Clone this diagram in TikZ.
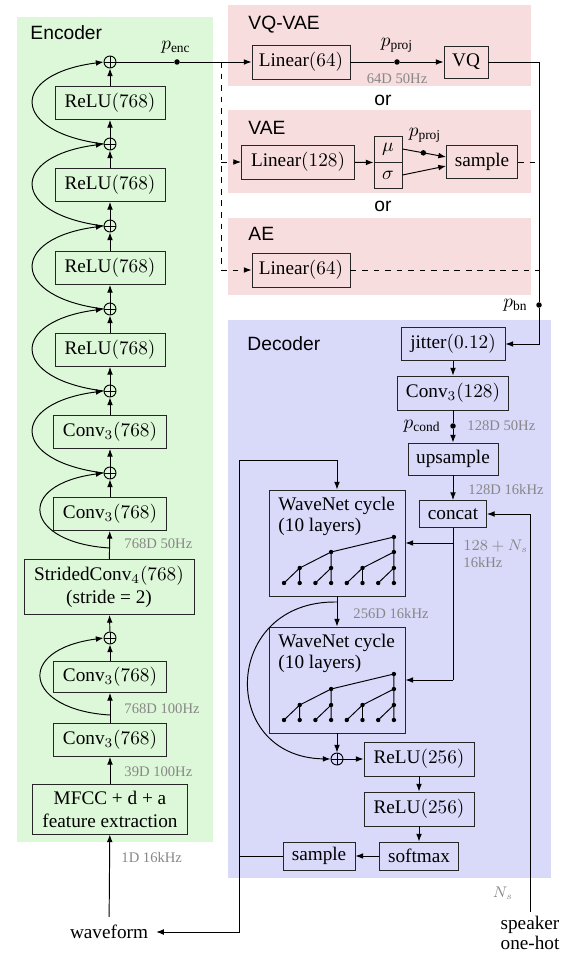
\documentclass[tikz,border=0pt]{standalone}
\usepackage{fontspec}
\setmainfont{Liberation Serif}
\setsansfont{Liberation Sans}
\usetikzlibrary{arrows.meta,calc}
\definecolor{encbg}{RGB}{221,248,216}
\definecolor{aebg}{RGB}{247,221,221}
\definecolor{decbg}{RGB}{217,217,250}
\definecolor{lblgray}{RGB}{135,135,135}
\newcommand\wntree[1]{%
 \begin{scope}[shift={(0,#1)}]
  \foreach \k in {0,2,4,6}{
    \draw ({284+15.7*\k},93) -- ({284+15.7*(\k+1)},78) -- ({284+15.7*(\k+1)},93);
  }
  \foreach \k in {1,5}{
    \draw ({284+15.7*\k},78) -- ({284+15.7*(\k+2)},62) -- ({284+15.7*(\k+2)},78);
  }
  \draw ({284+15.7*3},62) -- ({284+15.7*7},47) -- ({284+15.7*7},62);
  \foreach \k in {0,...,7} \fill ({284+15.7*\k},93) circle[radius=2.2];
  \foreach \k in {1,3,5,7} \fill ({284+15.7*\k},78) circle[radius=2.2];
  \foreach \k in {3,7} \fill ({284+15.7*\k},62) circle[radius=2.2];
  \fill ({284+15.7*7},47) circle[radius=2.2];
 \end{scope}}
\begin{document}
\begin{tikzpicture}[x=0.52pt,y=-0.52pt,
  line width=0.5pt,
  >={Latex[length=4pt,width=3pt]},
  blk/.style 2 args={draw=black!85, inner sep=1pt, minimum width=#1*0.52pt, minimum height=#2*0.52pt, align=center},
  addc/.style={draw, circle, inner sep=0pt, minimum size=12*0.52pt, path picture={\draw (path picture bounding box.north) -- (path picture bounding box.south) (path picture bounding box.west) -- (path picture bounding box.east);}},
  jdot/.style={circle, fill, inner sep=0pt, minimum size=5.5*0.52pt},
  lbl/.style={text=lblgray, font=\fontsize{7.6}{9}\selectfont, inner sep=0pt, anchor=west},
  ttl/.style={font=\sffamily, inner sep=0pt, anchor=west},
  ]
\useasboundingbox (0,0) rectangle (562,953);
% backgrounds
\fill[encbg] (17,17) rectangle (213,842);
\fill[aebg] (228,5) rectangle (531,86);
\fill[aebg] (228,110) rectangle (531,193);
\fill[aebg] (228,218) rectangle (531,295);
\fill[decbg] (228,320) rectangle (551,878);

% ---------------- Encoder
\node[ttl] (enct) at (30,33) {Encoder};
\node[addc] (e1) at (110,62) {};
\node[blk={110}{33}] (r1) at (110,103) {ReLU$(768)$};
\node[addc] (e2) at (110,144) {};
\node[blk={110}{33}] (r2) at (110,185) {ReLU$(768)$};
\node[addc] (e3) at (110,226) {};
\node[blk={110}{33}] (r3) at (110,268) {ReLU$(768)$};
\node[addc] (e4) at (110,309) {};
\node[blk={110}{33}] (r4) at (110,350) {ReLU$(768)$};
\node[addc] (e5) at (110,391) {};
\node[blk={113}{33}] (c1) at (110,432) {Conv$_3(768)$};
\node[addc] (e6) at (110,473) {};
\node[blk={113}{33}] (c2) at (110,514) {Conv$_3(768)$};
\node[blk={170}{55}] (sc) at (109,587) {StridedConv$_4(768)$\\(stride = 2)};
\node[addc] (e7) at (110,638) {};
\node[blk={113}{31}] (c3) at (110,677) {Conv$_3(768)$};
\node[blk={113}{33}] (c4) at (110,740) {Conv$_3(768)$};
\node[blk={155}{50}] (mf) at (110,809) {MFCC + d + a\\feature extraction};
\node[inner sep=4pt] (wf) at (109,932) {waveform};

\draw[->] (r1) -- (e1);
\draw[->] (e2) -- (r1);
\draw[->] (r2) -- (e2);
\draw[->] (e3) -- (r2);
\draw[->] (r3) -- (e3);
\draw[->] (e4) -- (r3);
\draw[->] (r4) -- (e4);
\draw[->] (e5) -- (r4);
\draw[->] (c1) -- (e5);
\draw[->] (e6) -- (c1);
\draw[->] (c2) -- (e6);
\draw[->] (sc) -- (c2);
\draw[->] (e7) -- (sc);
\draw[->] (c3) -- (e7);
\draw[->] (c4) -- (c3);
\draw[->] (mf) -- (c4);
\draw[->] (wf) -- (mf);

% residual arcs
\draw[->] (e2.west) .. controls +(-94,-12) and +(-94,12) .. (e1.west);
\draw[->] (e3.west) .. controls +(-94,-12) and +(-94,12) .. (e2.west);
\draw[->] (e4.west) .. controls +(-94,-12) and +(-94,12) .. (e3.west);
\draw[->] (e5.west) .. controls +(-94,-12) and +(-94,12) .. (e4.west);
\draw[->] (e6.west) .. controls +(-94,-12) and +(-94,12) .. (e5.west);
\coordinate (a6) at (110,548);
\coordinate (a7) at (110,715);
\draw[->] (a6) .. controls +(-85,-5) and +(-90,12) .. (e6.west);
\draw[->] (a7) .. controls +(-85,-5) and +(-90,12) .. (e7.west);

\node[lbl] at (124,544) {768D 50Hz};
\node[lbl] at (124,709) {768D 100Hz};
\node[lbl] at (124,772) {39D 100Hz};
\node[lbl] at (121,857) {1D 16kHz};

% ---------------- bottleneck variants
\node[ttl] at (248,25) {VQ-VAE};
\node[font=\sffamily] at (383,100) {or};
\node[ttl] at (248,128) {VAE};
\node[font=\sffamily] at (383,206) {or};
\node[ttl] at (248,234) {AE};

\node[jdot] (penc) at (177,62) {};
\node[inner sep=0pt] at (176,47) {$p_{\mathrm{enc}}$};
\node[blk={98}{34}] (l64) at (301,62) {Linear$(64)$};
\draw[->] (e1) -- (penc) -- (l64);

\node[jdot] (pproj) at (397,62) {};
\node[inner sep=0pt] at (397,45) {$p_{\mathrm{proj}}$};
\node[lbl,anchor=center] at (397,79) {64D 50Hz};
\node[blk={44}{32}] (vq) at (466,62) {VQ};
\draw[->] (l64) -- (pproj) -- (vq);

\node[blk={113}{34}] (l128) at (298,162) {Linear$(128)$};
\node[blk={28}{26}] (mu) at (388,149) {$\mu$};
\node[blk={28}{26}] (sg) at (388,175) {$\sigma$};
\draw[->] (l128) -- (mu.south west);
\node[blk={71}{33}] (smp) at (482,162) {sample};
\draw[->] (mu.east) -- node[jdot, pos=0.48] (pp2) {} ($(smp.west)+(0,-5)$);
\node[inner sep=0pt] at (425,135) {$p_{\mathrm{proj}}$};
\draw[->] (sg.east) -- ($(smp.west)+(0,4)$);

\node[blk={98}{34}] (l64b) at (301,270) {Linear$(64)$};

\coordinate (dtop) at (221,62);
\coordinate (dvae) at (221,162);
\coordinate (dae) at (221,270);
\draw[dashed] (dtop) -- (dae);
\draw[dashed,->] (dvae) -- (l128);
\draw[dashed,->] (dae) -- (l64b);

\coordinate (rtop) at (539,62);
\coordinate (rvae) at (539,162);
\coordinate (rae) at (539,270);
\coordinate (rbot) at (539,344);
\draw[dashed] (smp) -- (rvae);
\draw[dashed] (l64b) -- (rae);
\node[jdot] (pbn) at (539,305) {};
\node[inner sep=0pt, anchor=east] at (528,305) {$p_{\mathrm{bn}}$};

% ---------------- Decoder
\node[ttl] at (247,344) {Decoder};
\node[blk={104}{33}] (jit) at (453,344) {jitter$(0.12)$};
\draw[->] (vq) -- (rtop) -- (pbn) -- (rbot) -- (jit);
\node[blk={111}{34}] (cv) at (453,393) {Conv$_3(128)$};
\node[jdot] (pcond) at (453,426) {};
\node[inner sep=0pt,anchor=east] at (441,426) {$p_{\mathrm{cond}}$};
\node[lbl] at (467,426) {128D 50Hz};
\node[blk={90}{32}] (ups) at (453,459) {upsample};
\draw[->] (jit) -- (cv);
\draw[->] (cv) -- (pcond) -- (ups);
\node[lbl] at (468,489) {128D 16kHz};
\node[blk={67}{27}] (cat) at (453,514) {concat};
\draw[->] (ups) -- (cat);

\node[align=center, inner sep=2pt, font=\fontsize{10}{10.5}\selectfont] (spk) at (530,933) {speaker\\one-hot};
\coordinate (spkc) at (530,514);
\draw[->] (spk) -- (spkc) -- (cat);
\node[lbl, anchor=center] at (503,893) {$N_s$};

\node[blk={136}{106}] (wn1) at (337,543) {};
\node[anchor=base west, inner sep=0pt] at (278,510) {WaveNet cycle};
\node[anchor=base west, inner sep=0pt] at (278,531) {(10 layers)};
\wntree{490}
\node[blk={136}{106}] (wn2) at (337,680) {};
\node[anchor=base west, inner sep=0pt] at (278,647) {WaveNet cycle};
\node[anchor=base west, inner sep=0pt] at (278,668) {(10 layers)};
\wntree{627}

\coordinate (cb1) at (453,543);
\coordinate (cb2) at (453,680);
\draw (cat) -- (cb2);
\draw[->] (cb1) -- (wn1);
\draw[->] (cb2) -- (wn2);
\node[lbl] at (463,546) {$128+N_s$};
\node[lbl] at (463,562) {16kHz};

\draw[->] (wn1) -- (wn2);
\node[lbl] at (353,613) {256D 16kHz};

\node[addc] (dsum) at (337,759) {};
\draw[->] (wn2) -- (dsum);
\coordinate (wa) at (337,602);
\draw[->] (wa) .. controls (222,600) and (218,757) .. (dsum.west);

\node[blk={110}{34}] (rl1) at (419,759) {ReLU$(256)$};
\draw[->] (dsum) -- (rl1);
\node[blk={110}{34}] (rl2) at (419,809) {ReLU$(256)$};
\draw[->] (rl1) -- (rl2);
\node[blk={79}{28}] (smx) at (419,856) {softmax};
\draw[->] (rl2) -- (smx);
\node[blk={72}{28}] (smp2) at (319,856) {sample};
\draw[->] (smx) -- (smp2);

\coordinate (fb) at (239,856);
\coordinate (fbt) at (337,460);
\draw[->] (smp2) -- (fb) |- (fbt) -- (wn1);
\draw[->] (fb) |- (wf);
\end{tikzpicture}
\end{document}
